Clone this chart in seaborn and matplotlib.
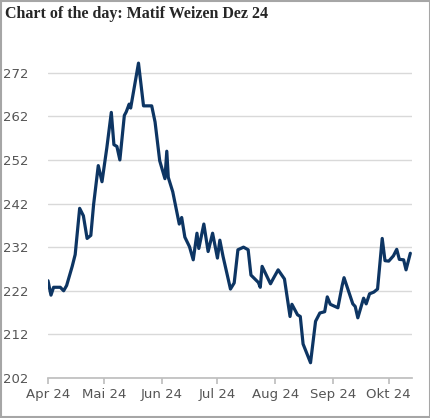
import matplotlib
matplotlib.use("Agg")
import matplotlib.pyplot as plt
import seaborn as sns
import pandas as pd
import numpy as np

days = [0,1.6,3,6.6,8.4,10,13,14.6,17,19,21,23,24.5,27,29,31.6,34,35.4,37,38.6,41,42,43.6,44.4,48.6,51.3,55.7,57.5,60,62.8,63.8,64.6,67,70.5,71.8,73.5,76,78,80,81,83.7,86,88.4,91,92.3,94,98,100,102,105,107.5,109,113,114,115,119.5,121,123.6,127,130,131,134,135.5,137,141,143.7,146,148.6,150,151.6,155.7,158,159,163.7,165,166.4,169.5,170.9,172.7,175,177,179.5,181,183,185.5,187.3,188.7,191,192.3,194.6]
values = [224.3,221,222.8,222.8,222,223.2,227.6,230.3,240.9,239.2,234,234.7,241.8,250.7,247,254.8,262.9,255.5,255.1,252,262.2,263,264.8,263.9,274.2,264.4,264.4,260.7,251.8,247.7,254,248,244.7,237.3,238.8,234.3,232.1,229.1,235.2,231.7,237.3,231,235.2,229.5,233.6,229.9,222.4,223.8,231.4,232,231.4,225.6,223.9,222.8,227.6,223.6,224.8,226.8,224.7,216.1,218.9,216.5,216.1,209.8,205.5,215,216.9,217.2,220.6,218.9,218.1,223.2,225,219,218.4,215.8,220.3,219,221.3,221.7,222.4,234,228.9,228.8,230,231.5,229.2,229.1,226.8,230.6]
month_labels = ["Apr 24","Mai 24","Jun 24","Jul 24","Aug 24","Sep 24","Okt 24"]
month_starts = ["2024-04-01","2024-05-01","2024-06-01","2024-07-01","2024-08-01","2024-09-01","2024-10-01"]
y_ticks = [202,212,222,232,242,252,262,272]

start = pd.Timestamp("2024-04-01")
df = pd.DataFrame({"date": [start + pd.Timedelta(days=d) for d in days], "value": values})

sns.set_theme(style="white")
plt.rcParams['font.family'] = ['DejaVu Sans']
fig = plt.figure(figsize=(4.31, 4.18), dpi=100)
ax = fig.add_axes([48/431, 40/418, 364/431, 338/418])
sns.lineplot(data=df, x="date", y="value", ax=ax, color="#0d3563", linewidth=2.3)
ax.set_xlim(start, start + pd.Timedelta(days=195.5))
ax.set_ylim(202, 279.5)
ax.set_yticks(y_ticks)
ax.set_yticklabels([str(v) for v in y_ticks], color="#555555", fontsize=9.5)
ax.set_xticks([pd.Timestamp(m) for m in month_starts])
ax.set_xticklabels(month_labels, color="#555555", fontsize=9.5)
ax.grid(axis="y", color="#d9d9d9", linewidth=1)
ax.set_axisbelow(True)
for s in ["top", "right", "left"]:
    ax.spines[s].set_visible(False)
ax.spines["bottom"].set_color("#bfbfbf")
ax.tick_params(axis="x", length=4, color="#bfbfbf", bottom=True, pad=3)
ax.tick_params(axis="y", length=0, pad=14)
ax.set_xlabel("")
ax.set_ylabel("")
fig.text(5/431, 1-14/418, "Chart of the day: Matif Weizen Dez 24", fontsize=11.5,
         fontweight="bold", family="Liberation Serif", va="center", ha="left")
fig.patches.append(plt.Rectangle((0.002, 0.002), 0.995, 0.995, transform=fig.transFigure,
                                 fill=False, edgecolor="#a6a6a6", linewidth=1.5))
fig.savefig("out.png", dpi=100)
